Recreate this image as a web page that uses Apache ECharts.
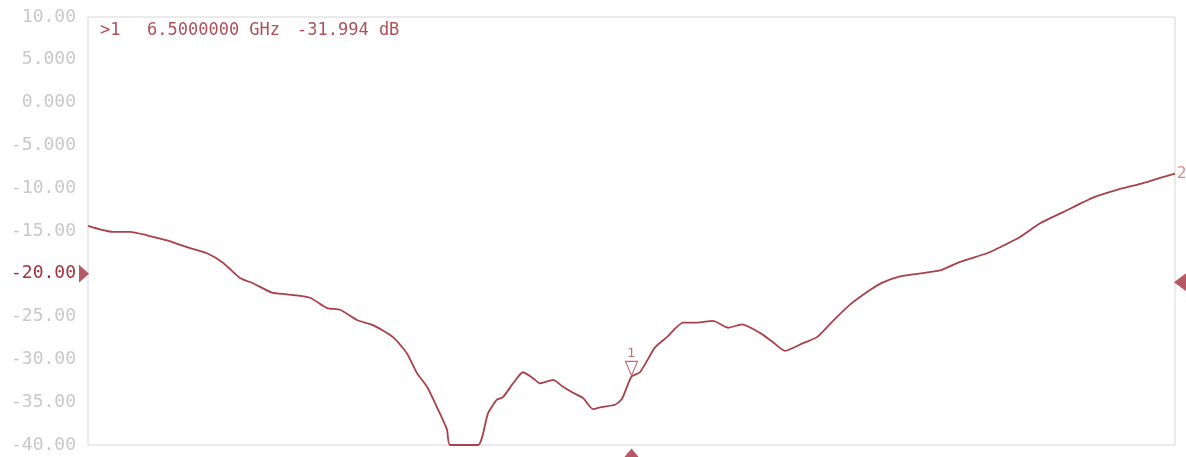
<!DOCTYPE html>
<html><head><meta charset="utf-8">
<script src="https://cdn.jsdelivr.net/npm/echarts@6/dist/echarts.min.js"></script>
<style>html,body{margin:0;padding:0;background:#fff}#c{width:1186px;height:457px}</style>
</head><body><div id="c"></div>
<script>
// Frequency (GHz) and trace magnitude (dB)
const freqGHz = [1.000,1.253,1.425,1.597,1.799,2.032,2.204,2.366,2.538,2.670,2.862,3.014,3.247,3.419,3.550,3.722,3.884,4.087,4.228,4.329,4.431,4.532,4.633,4.663,4.947,5.048,5.139,5.200,5.301,5.402,5.503,5.574,5.706,5.807,5.908,6.009,6.111,6.181,6.333,6.404,6.500,6.586,6.738,6.859,7.021,7.163,7.325,7.477,7.618,7.800,7.932,8.053,8.236,8.377,8.539,8.711,8.914,9.045,9.217,9.389,9.622,9.824,10.098,10.229,10.432,10.634,10.867,11.171,11.413,11.677,11.849,12.000];
const magDB = [-14.4,-15.1,-15.1,-15.5,-16.1,-17.0,-17.6,-18.7,-20.5,-21.1,-22.2,-22.4,-22.8,-24.0,-24.2,-25.4,-26.0,-27.4,-29.3,-31.6,-33.2,-35.6,-38.2,-40.0,-40.0,-36.3,-34.7,-34.4,-32.8,-31.5,-32.2,-32.8,-32.4,-33.2,-33.9,-34.5,-35.8,-35.6,-35.3,-34.6,-32.0,-31.5,-28.6,-27.4,-25.7,-25.7,-25.5,-26.3,-25.9,-26.9,-28.0,-29.0,-28.1,-27.4,-25.5,-23.6,-21.9,-21.0,-20.3,-20.0,-19.6,-18.6,-17.6,-16.9,-15.7,-14.1,-12.8,-11.1,-10.2,-9.4,-8.8,-8.3];
const yTickValues = [10,5,0,-5,-10,-15,-20,-25,-30,-35,-40];
const yTickLabels = ['10.00','5.000','0.000','-5.000','-10.00','-15.00','-20.00','-25.00','-30.00','-35.00','-40.00'];
const refLevelDB = -20;      // left reference marker
const rightMarkerDB = -21;   // right marker
const marker1 = {freq: 6.5, db: -31.994};
const freqStart = 1, freqStop = 12;
const markerText = ['>1', '6.5000000 GHz', '-31.994 dB'];

const red = '#a3303d';
const chart = echarts.init(document.getElementById('c'));
chart.setOption({
  animation: false,
  grid: {left: 88, right: 11, top: 17, bottom: 12, show: true, borderColor: '#d6d6d6', borderWidth: 1},
  xAxis: {type: 'value', min: freqStart, max: freqStop, axisLine: {show: false}, axisTick: {show: false}, axisLabel: {show: false}, splitLine: {show: false}},
  yAxis: {type: 'value', min: -40, max: 10, interval: 5,
    axisLine: {show: false}, axisTick: {show: false}, splitLine: {show: false},
    axisLabel: {margin: 12, fontFamily: 'DejaVu Sans Mono', fontSize: 18, color: '#c8c8c8',
      formatter: v => { const i = yTickValues.indexOf(v); if (i < 0) return ''; return v === refLevelDB ? '{r|' + yTickLabels[i] + '}' : yTickLabels[i]; },
      rich: {r: {color: red, fontFamily: 'DejaVu Sans Mono', fontSize: 18}}}
  },
  series: [
    {type: 'line', data: freqGHz.map((f, i) => [f, magDB[i]]), showSymbol: false, smooth: 0.2,
     lineStyle: {color: '#a8414b', width: 1.8}, clip: false},
    {type: 'scatter', clip: false, data: [[freqStart, refLevelDB]], symbol: 'triangle', symbolSize: [18, 10], symbolRotate: -90, symbolOffset: [-4, 0], itemStyle: {color: red}},
    {type: 'scatter', clip: false, data: [[freqStop, rightMarkerDB]], symbol: 'triangle', symbolSize: [18, 12], symbolRotate: 90, symbolOffset: [5, 0], itemStyle: {color: red}},
    {type: 'scatter', clip: false, data: [[marker1.freq, -40]], symbol: 'triangle', symbolSize: [15, 9], symbolOffset: [0, 8], itemStyle: {color: red}},
    {type: 'scatter', clip: false, data: [[marker1.freq, marker1.db]], symbol: 'triangle', symbolSize: [12, 14], symbolRotate: 180, symbolOffset: [0, -8],
     itemStyle: {color: 'rgba(255,255,255,0)', borderColor: '#b04a55', borderWidth: 1.2},
     label: {show: true, formatter: '{u|1}', position: 'top', distance: 1, rich: {u: {color: '#b04a55', fontFamily: 'DejaVu Sans', fontSize: 13, borderColor: '#b04a55', borderWidth: 0}}}},
    {type: 'scatter', clip: false, data: [[freqStop, magDB[magDB.length - 1]]], symbolSize: 0,
     label: {show: true, formatter: '2', position: 'right', distance: 2, color: '#cf6b6b', fontFamily: 'DejaVu Sans', fontSize: 15}}
  ],
  graphic: [
    {type: 'text', left: 100, top: 22, style: {text: markerText[0], fill: '#b0505a', font: '17px "DejaVu Sans Mono"'}},
    {type: 'text', left: 147, top: 22, style: {text: markerText[1], fill: '#b0505a', font: '17px "DejaVu Sans Mono"'}},
    {type: 'text', left: 297, top: 22, style: {text: markerText[2], fill: '#b0505a', font: '17px "DejaVu Sans Mono"'}}
  ]
});
</script></body></html>
